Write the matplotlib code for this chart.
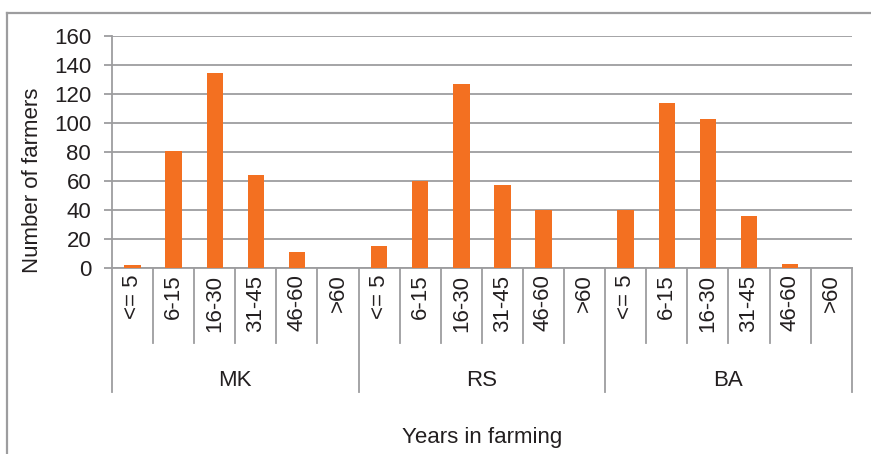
import matplotlib
matplotlib.use("Agg")
import matplotlib.pyplot as plt
from matplotlib.lines import Line2D

# Number of farmers by years in farming, per district
groups = ["MK", "RS", "BA"]
bins = ["<= 5", "6-15", "16-30", "31-45", "46-60", ">60"]
mk_counts = [2, 81, 134, 64, 11, 0]
rs_counts = [15, 60, 127, 57, 40, 0]
ba_counts = [40, 114, 103, 36, 3, 0]
y_ticks = [0, 20, 40, 60, 80, 100, 120, 140, 160]

plt.rcParams["font.family"] = ["Liberation Sans", "DejaVu Sans"]

BAR = "#F37021"
GRID = "#9D9D9F"
TEXT = "#231F20"

W, H = 871, 454
fig = plt.figure(figsize=(W / 100, H / 100), dpi=100)

ax_l, ax_r, ax_t, ax_b = 112, 851.7, 35.7, 268.3
ax = fig.add_axes([ax_l / W, 1 - ax_b / H, (ax_r - ax_l) / W, (ax_b - ax_t) / H])

values = mk_counts + rs_counts + ba_counts
labels = bins * len(groups)
x = list(range(len(values)))
ax.bar(x, values, width=0.4, color=BAR, zorder=3)

ax.set_xlim(-0.5, len(values) - 0.5)
ax.set_ylim(0, 160)
ax.set_yticks(y_ticks)
ax.set_yticklabels([str(v) for v in y_ticks], fontsize=16, color=TEXT)
ax.yaxis.grid(True, color=GRID, linewidth=1.3, zorder=0)
ax.tick_params(axis="y", length=6, width=1.3, color=GRID, pad=9)

ax.set_xticks(x)
ax.set_xticklabels(labels, rotation=90, fontsize=16, color=TEXT, va="top", ha="center")
ax.tick_params(axis="x", length=0, pad=4.5)

for side in ["top", "right"]:
    ax.spines[side].set_visible(False)
for side in ["left", "bottom"]:
    ax.spines[side].set_color(GRID)
    ax.spines[side].set_linewidth(1.3)

# separators below the axis: short between bins, long between districts
trans = ax.get_xaxis_transform()
short_y = (ax_b - 343) / (ax_b - ax_t)
long_y = (ax_b - 392) / (ax_b - ax_t)
n = len(bins)
for i in range(len(values) + 1):
    bottom = long_y if i % n == 0 else short_y
    ax.add_line(Line2D([i - 0.5, i - 0.5], [0, bottom], transform=trans,
                       color=GRID, linewidth=1.3, clip_on=False))

group_y = (ax_b - 381) / (ax_b - ax_t)
for g, name in enumerate(groups):
    ax.text(g * n + (n - 1) / 2, group_y, name, transform=trans,
            ha="center", va="center", fontsize=16, color=TEXT)

xlabel_y = (ax_b - 438) / (ax_b - ax_t)
ax.text((len(values) - 1) / 2, xlabel_y, "Years in farming", transform=trans,
        ha="center", va="center", fontsize=16, color=TEXT)

fig.text(32 / W, 1 - 180 / H, "Number of farmers", rotation=90,
         ha="center", va="center", fontsize=16, color=TEXT)

# chart frame
fig.add_artist(Line2D([7 / W, 7 / W], [0, 1 - 13 / H], transform=fig.transFigure,
                      color=GRID, linewidth=1.6))
fig.add_artist(Line2D([7 / W, 1], [1 - 13 / H, 1 - 13 / H], transform=fig.transFigure,
                      color=GRID, linewidth=1.6))

fig.savefig("out.png", dpi=100)
